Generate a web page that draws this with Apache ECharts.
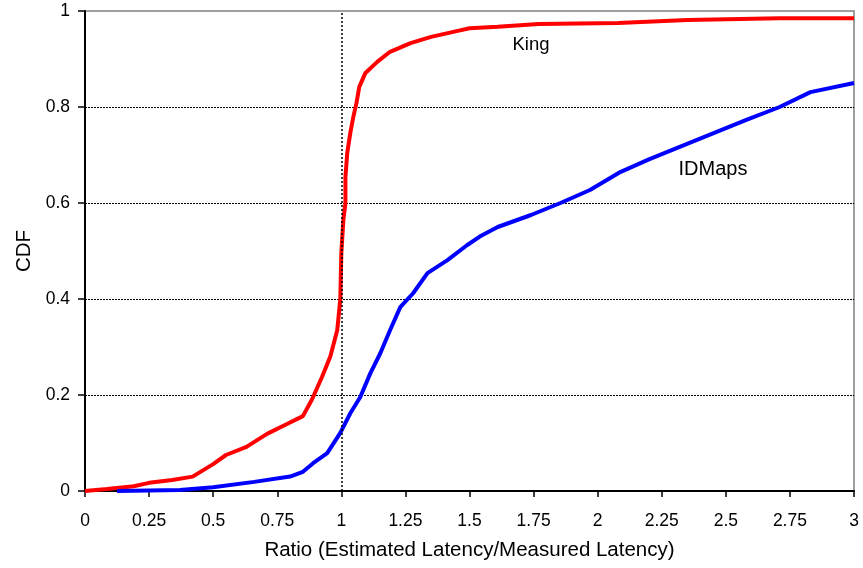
<!DOCTYPE html>
<html>
<head>
<meta charset="utf-8">
<script src="https://cdn.jsdelivr.net/npm/echarts@6/dist/echarts.min.js"></script>
<style>html,body{margin:0;padding:0;background:#fff}#c{width:863px;height:568px}</style>
</head>
<body>
<div id="c"></div>
<script>
var xTicks = ['0','0.25','0.5','0.75','1','1.25','1.5','1.75','2','2.25','2.5','2.75','3'];
var yTicks = ['0','0.2','0.4','0.6','0.8','1'];
var kingX = [0,0.086,0.19,0.25,0.34,0.42,0.5,0.55,0.63,0.71,0.79,0.85,0.885,0.925,0.957,0.984,0.996,1.0,1.008,1.016,1.016,1.023,1.035,1.047,1.059,1.07,1.094,1.14,1.19,1.27,1.35,1.45,1.5,1.61,1.77,2.08,2.35,2.71,3.0];
var kingY = [0,0.004,0.01,0.017,0.023,0.03,0.056,0.075,0.092,0.119,0.14,0.156,0.19,0.238,0.28,0.335,0.4,0.496,0.565,0.6,0.654,0.704,0.746,0.78,0.808,0.842,0.871,0.894,0.915,0.933,0.946,0.958,0.964,0.967,0.973,0.975,0.981,0.985,0.985];
var idX = [0.125,0.37,0.5,0.66,0.8,0.85,0.89,0.945,0.996,1.035,1.074,1.113,1.152,1.19,1.23,1.28,1.336,1.414,1.49,1.54,1.61,1.74,1.855,1.97,2.09,2.2,2.32,2.45,2.58,2.71,2.83,3.0];
var idY = [0,0.002,0.008,0.019,0.03,0.04,0.058,0.079,0.121,0.162,0.196,0.245,0.287,0.335,0.383,0.412,0.454,0.481,0.512,0.53,0.55,0.575,0.6,0.627,0.665,0.691,0.717,0.745,0.773,0.8,0.831,0.85];
var seriesNames = ['King','IDMaps'];
var labelPos = [[1.74,0.93],[2.45,0.669]];

function pairs(xs, ys){ return xs.map(function(v,i){ return [v, ys[i]]; }); }
var font = 'Liberation Sans, Arial, sans-serif';
var chart = echarts.init(document.getElementById('c'));
chart.setOption({
  animation: false,
  grid: {left: 85, right: 9, top: 11, bottom: 77, show: true, borderColor: '#808080', borderWidth: 1.5, backgroundColor: '#fff'},
  xAxis: {
    type: 'value', min: 0, max: 3, interval: 0.25,
    name: 'Ratio (Estimated Latency/Measured Latency)', nameLocation: 'middle', nameGap: 49,
    nameTextStyle: {fontFamily: font, fontSize: 20.5, color: '#000'},
    axisLine: {lineStyle: {color: '#000', width: 2}},
    axisTick: {show: true, length: 6, lineStyle: {color: '#000', width: 1.5}},
    axisLabel: {fontFamily: font, fontSize: 17.5, color: '#000', margin: 21, formatter: function(v){ var i = Math.round(v/0.25); return xTicks[i]; }},
    splitLine: {show: false}
  },
  yAxis: {
    type: 'value', min: 0, max: 1, interval: 0.2,
    name: 'CDF', nameLocation: 'middle', nameGap: 49,
    nameTextStyle: {fontFamily: font, fontSize: 20.5, color: '#000'},
    axisLine: {show: true, lineStyle: {color: '#000', width: 2}},
    axisTick: {show: true, length: 7, lineStyle: {color: '#000', width: 1.5}},
    axisLabel: {fontFamily: font, fontSize: 17.5, color: '#000', margin: 15, padding: [7,0,0,0], formatter: function(v){ return yTicks[Math.round(v/0.2)]; }},
    splitLine: {show: true, lineStyle: {type: [2,1], width: 1, color: ['transparent','#000','#000','#000','#000','transparent']}}
  },
  series: [
    {
      name: seriesNames[0], type: 'line', data: pairs(kingX, kingY), showSymbol: false, symbol: 'none',
      lineStyle: {color: '#ff0000', width: 4}, z: 3,
      markLine: {silent: true, symbol: 'none', label: {show: false},
        lineStyle: {color: '#000', type: [2,2], width: 1.5}, data: [{xAxis: 1}]},
      markPoint: {symbol: 'circle', symbolSize: 0, data: [{coord: labelPos[0]}],
        label: {show: true, formatter: seriesNames[0], fontFamily: font, fontSize: 18.5, color: '#000', position: 'inside'}}
    },
    {
      name: seriesNames[1], type: 'line', data: pairs(idX, idY), showSymbol: false, symbol: 'none',
      lineStyle: {color: '#0000ff', width: 4}, z: 3,
      markPoint: {symbol: 'circle', symbolSize: 0, data: [{coord: labelPos[1]}],
        label: {show: true, formatter: seriesNames[1], fontFamily: font, fontSize: 20, color: '#000', position: 'inside'}}
    }
  ]
});
</script>
</body>
</html>
